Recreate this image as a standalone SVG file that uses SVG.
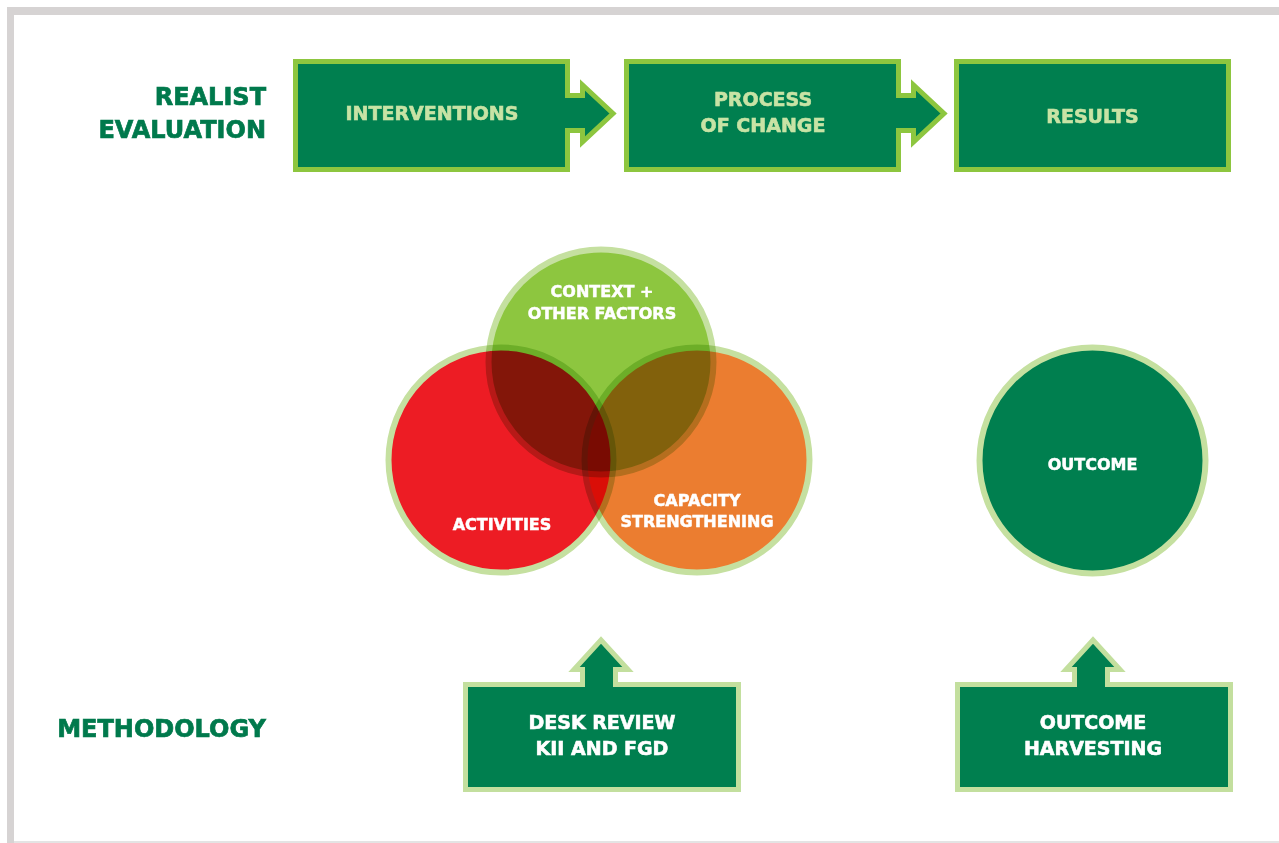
<svg xmlns="http://www.w3.org/2000/svg" width="1279" height="843" viewBox="0 0 1279 843">
  <style>
    .frame { fill: #d6d3d3; }
    .side-label { font-family: "DejaVu Sans", "Liberation Sans", sans-serif; font-weight: bold; font-size: 24px; fill: #00794c; stroke: #00794c; stroke-width: 0.7; text-anchor: end; }
    .top-box { fill: #007f4f; stroke: #8dc63f; stroke-width: 5; stroke-linejoin: miter; }
    .top-text { font-family: "DejaVu Sans", "Liberation Sans", sans-serif; font-weight: bold; font-size: 19px; fill: #c8e3a5; stroke: #c8e3a5; stroke-width: 0.6; text-anchor: middle; }
    .bottom-box { fill: #007f4f; stroke: #c3df9e; stroke-width: 5; stroke-linejoin: miter; }
    .box-text { font-family: "DejaVu Sans", "Liberation Sans", sans-serif; font-weight: bold; font-size: 19px; fill: #ffffff; stroke: #ffffff; stroke-width: 0.6; text-anchor: middle; }
    .venn circle { stroke: #c5e0a0; stroke-width: 6; mix-blend-mode: multiply; }
    .circle-text { font-family: "DejaVu Sans", "Liberation Sans", sans-serif; font-weight: bold; font-size: 16px; fill: #ffffff; stroke: #ffffff; stroke-width: 0.5; text-anchor: middle; }
  </style>
  <defs>
    <!-- box with a right-pointing arrow on its right edge -->
    <path id="arrow-box-right" d="M295.5,61.5 H567.5 V95.5 H582.5 V85 L613,113.5 L582.5,142 V130.5 H567.5 V169.5 H295.5 Z"/>
    <!-- box with an upward arrow on its top edge -->
    <path id="arrow-box-up" d="M465.5,684.5 H582.5 V669.5 H574 L601,640 L628,669.5 H615.5 V684.5 H738.5 V789.5 H465.5 Z"/>
  </defs>

  <rect width="1279" height="843" fill="#ffffff"/>

  <!-- page frame -->
  <g id="frame">
    <rect class="frame" x="7" y="7" width="1272" height="8"/>
    <rect class="frame" x="7" y="7" width="7" height="836"/>
    <rect x="14" y="841" width="1265" height="2" fill="#e4e4e4"/>
  </g>

  <!-- row labels -->
  <g id="label-realist">
    <text class="side-label" x="266" y="105">REALIST</text>
    <text class="side-label" x="266" y="138">EVALUATION</text>
  </g>
  <g id="label-methodology">
    <text class="side-label" x="266" y="737">METHODOLOGY</text>
  </g>

  <!-- top chain -->
  <g id="interventions">
    <use href="#arrow-box-right" class="top-box"/>
    <text class="top-text" x="432" y="120">INTERVENTIONS</text>
  </g>
  <g id="process-of-change">
    <use href="#arrow-box-right" class="top-box" transform="translate(331,0)"/>
    <text class="top-text" x="763" y="106">PROCESS</text>
    <text class="top-text" x="763" y="132">OF CHANGE</text>
  </g>
  <g id="results">
    <rect class="top-box" x="956.5" y="61.5" width="272" height="108"/>
    <text class="top-text" x="1092.5" y="123">RESULTS</text>
  </g>

  <!-- overlapping circles -->
  <g id="venn" class="venn" style="isolation:isolate">
    <circle id="context" cx="601" cy="362" r="112.5" fill="#8dc63f"/>
    <circle id="activities" cx="501" cy="460" r="112.5" fill="#ed1c24"/>
    <circle id="capacity" cx="697" cy="460" r="112.5" fill="#eb7d30"/>
  </g>
  <g id="venn-labels">
    <text class="circle-text" x="602" y="297">CONTEXT +</text>
    <text class="circle-text" x="602" y="319">OTHER FACTORS</text>
    <text class="circle-text" x="502" y="530">ACTIVITIES</text>
    <text class="circle-text" x="697" y="506">CAPACITY</text>
    <text class="circle-text" x="697" y="527">STRENGTHENING</text>
  </g>

  <g id="outcome">
    <circle cx="1092.5" cy="460.5" r="113" fill="#007f4f" stroke="#c5e0a0" stroke-width="6"/>
    <text class="circle-text" x="1092.5" y="469.5">OUTCOME</text>
  </g>

  <!-- methodology boxes -->
  <g id="desk-review">
    <use href="#arrow-box-up" class="bottom-box"/>
    <text class="box-text" x="602" y="729">DESK REVIEW</text>
    <text class="box-text" x="602" y="755">KII AND FGD</text>
  </g>
  <g id="outcome-harvesting">
    <use href="#arrow-box-up" class="bottom-box" transform="translate(492,0)"/>
    <text class="box-text" x="1093" y="729">OUTCOME</text>
    <text class="box-text" x="1093" y="755">HARVESTING</text>
  </g>
</svg>
